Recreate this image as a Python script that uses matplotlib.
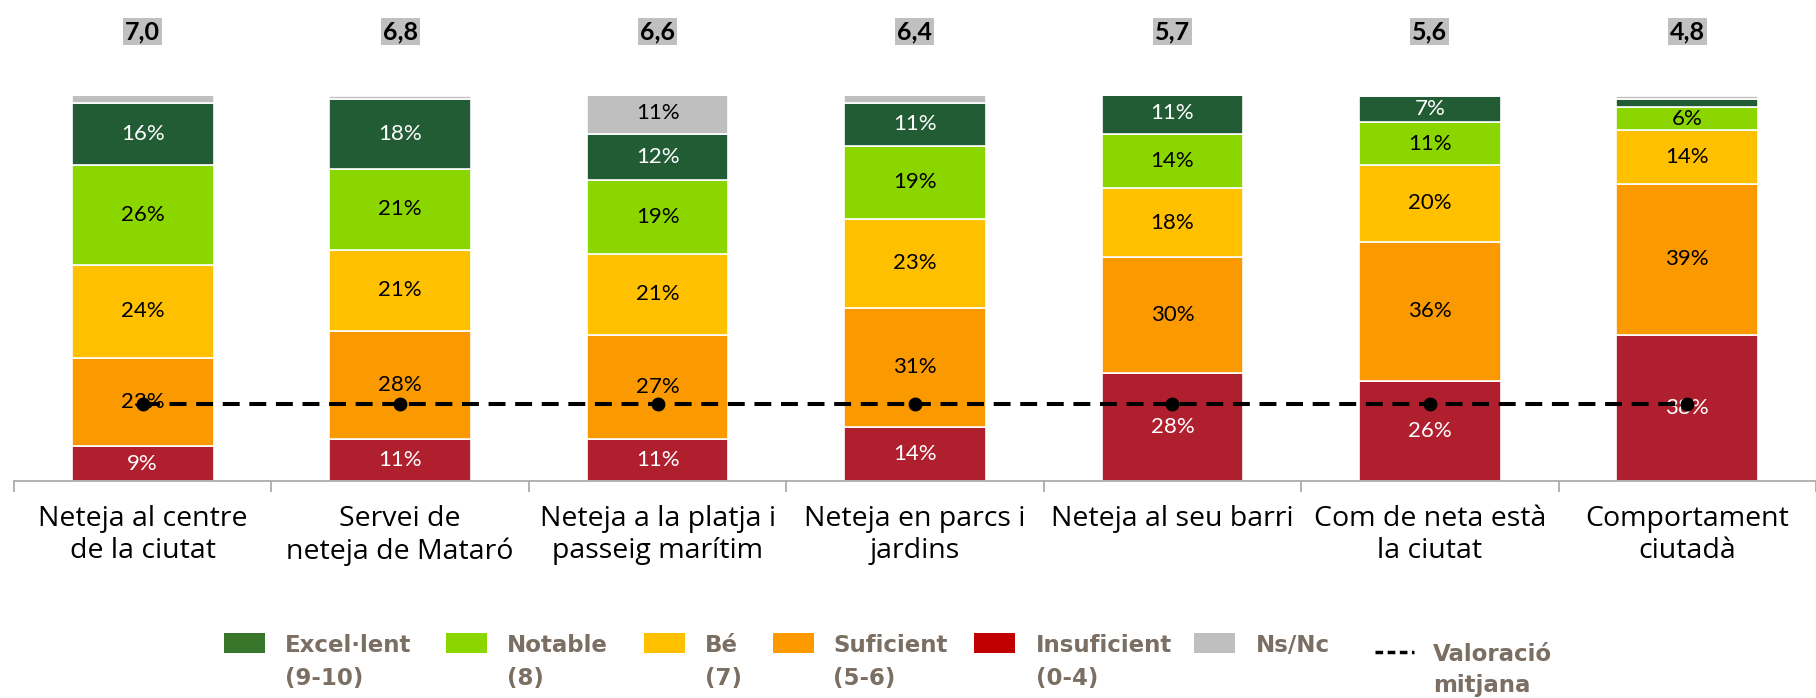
import matplotlib
matplotlib.use("Agg")
import matplotlib.pyplot as plt
import numpy as np
from matplotlib.patches import Rectangle
from matplotlib.lines import Line2D

# Data
categories = [
    "Neteja al centre\nde la ciutat",
    "Servei de\nneteja de Mataró",
    "Neteja a la platja i\npasseig marítim",
    "Neteja en parcs i\njardins",
    "Neteja al seu barri",
    "Com de neta està\nla ciutat",
    "Comportament\nciutadà",
]
insuficient = [9, 11, 11, 14, 28, 26, 38]
suficient = [23, 28, 27, 31, 30, 36, 39]
be = [24, 21, 21, 23, 18, 20, 14]
notable = [26, 21, 19, 19, 14, 11, 6]
excellent = [16, 18, 12, 11, 11, 7, 2]
nsnc = [2, 1, 11, 2, 0, 0, 1]
mean_values = [7.0, 6.8, 6.6, 6.4, 5.7, 5.6, 4.8]
mean_line_level = 20  # height of the dashed line on the % axis

series = [
    ("Excel·lent\n(9-10)", excellent, "#225C35", "#38762B", "white"),
    ("Notable\n(8)", notable, "#8CD600", "#8CD600", "black"),
    ("Bé\n(7)", be, "#FFC000", "#FFC000", "black"),
    ("Suficient\n(5-6)", suficient, "#FB9900", "#FF9900", "black"),
    ("Insuficient\n(0-4)", insuficient, "#B01F2E", "#C00000", "white"),
    ("Ns/Nc", nsnc, "#BFBFBF", "#BFBFBF", "black"),
]
stack_order = [4, 3, 2, 1, 0, 5]  # bottom to top

W, H = 1816, 698
fig = plt.figure(figsize=(W / 100, H / 100), dpi=100)
ax = fig.add_axes([14 / W, 1 - 481 / H, 1 - 14 / W, 385.5 / H])

x = np.arange(len(categories))
bottom = np.zeros(len(categories))
for idx in stack_order:
    name, vals, color, _, txtcol = series[idx]
    vals = np.array(vals, dtype=float)
    ax.bar(x, vals, 0.551, bottom=bottom, color=color,
           edgecolor="white", linewidth=1.2, zorder=2)
    for xi, b, v in zip(x, bottom, vals):
        if v >= 5:
            ax.text(xi, b + v / 2, f"{int(v)}%", ha="center", va="center",
                    fontsize=16, color=txtcol, family="Lato", zorder=3)
    bottom += vals

# mean line
ax.plot(x, [mean_line_level] * len(x), color="black", lw=2.9,
        dashes=(4.2, 2.4), marker="o", markersize=9, zorder=4)

for xi, m in zip(x, mean_values):
    ax.text(xi, 116.5, f"{m:.1f}".replace(".", ","), ha="center", va="center",
            fontsize=18, fontweight="bold", family="Lato", color="black",
            bbox=dict(facecolor="#C0C0C0", edgecolor="none", pad=1.5),
            clip_on=False)

ax.set_xlim(-0.5, 6.5 - 14 / 259.4)
ax.set_ylim(0, 100)
for s in ["top", "right", "left"]:
    ax.spines[s].set_visible(False)
ax.spines["bottom"].set_color("#A6A6A6")
ax.spines["bottom"].set_linewidth(1.2)
ax.set_yticks([])
ax.set_xticks(x)
ax.set_xticklabels(categories, fontsize=20.5, family="Open Sans",
                   linespacing=1.22)
ax.tick_params(axis="x", which="major", length=0, pad=17)
ax.set_xticks(np.arange(-0.5, 7, 1), minor=True)
ax.tick_params(axis="x", which="minor", length=8, color="#A6A6A6", width=1.2)

# legend, drawn by hand in pixel positions
legend_col = "#7B6E62"
sq_x = [224, 446, 644, 773, 974, 1194]
txt_x = [285, 507, 705, 833, 1036, 1256]
for i, (name, _, _, lcol, _) in enumerate(series):
    fig.patches.append(Rectangle((sq_x[i] / W, 1 - 653 / H), 41 / W, 20 / H,
                                 transform=fig.transFigure, facecolor=lcol,
                                 edgecolor="none"))
    fig.text(txt_x[i] / W, 1 - 634 / H, name, ha="left", va="top",
             fontsize=16.5, fontweight="bold", family="DejaVu Sans",
             color=legend_col, linespacing=1.55)
fig.lines.append(Line2D([1375 / W, 1414 / W], [1 - 652 / H, 1 - 652 / H],
                        transform=fig.transFigure, color="black", lw=2.5,
                        dashes=(2.2, 1.3)))
fig.text(1433 / W, 1 - 643 / H, "Valoració\nmitjana", ha="left", va="top",
         fontsize=16.5, fontweight="bold", family="DejaVu Sans",
         color=legend_col, linespacing=1.45)

fig.savefig("out.png", dpi=100)
